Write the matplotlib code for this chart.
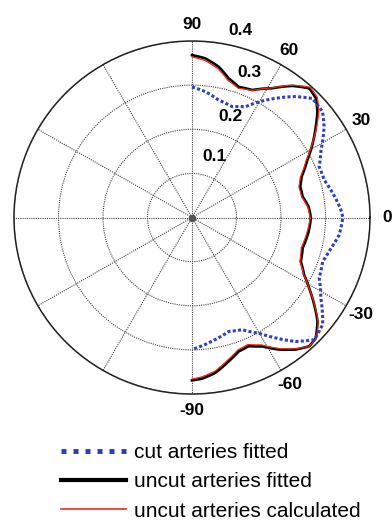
import numpy as np
import matplotlib
matplotlib.use("Agg")
import matplotlib.pyplot as plt
from matplotlib.lines import Line2D

# Angles in degrees, radii in polar units
uncut_deg = [90, 85.3, 80.1, 75.4, 70.5, 64.9, 58.4, 52.9, 48.0, 44.1, 40.4,
             36.5, 31.8, 26.7, 20.6, 16.1, 10.8, 5.4, 0, -6.9, -15.6, -22.2,
             -27.2, -31.3, -35.7, -39.8, -44.5, -47.9, -52.1, -56.9, -61.6,
             -66.4, -70.9, -75.8, -81.6, -86.6, -90]
uncut_fit_r = [0.368, 0.362, 0.347, 0.326, 0.314, 0.319, 0.344, 0.374, 0.394,
               0.388, 0.370, 0.346, 0.319, 0.290, 0.263, 0.253, 0.253, 0.263,
               0.267, 0.264, 0.258, 0.264, 0.283, 0.308, 0.338, 0.367, 0.390,
               0.393, 0.379, 0.357, 0.332, 0.318, 0.321, 0.336, 0.356, 0.366,
               0.369]
uncut_calc_r = [0.364, 0.357, 0.342, 0.321, 0.311, 0.318, 0.345, 0.376, 0.397,
                0.392, 0.374, 0.349, 0.318, 0.287, 0.260, 0.250, 0.251, 0.261,
                0.266, 0.261, 0.255, 0.262, 0.282, 0.308, 0.339, 0.369, 0.391,
                0.393, 0.377, 0.354, 0.328, 0.314, 0.317, 0.332, 0.352, 0.362,
                0.366]

cut_deg = [90, 84.1, 77.4, 70.3, 64.5, 60.2, 55.2, 49.6, 44.9, 39.3, 34.7,
           27.9, 22.0, 16.0, 9.9, 3.0, 0, -6.8, -12.5, -18.7, -25.6, -32.2,
           -39.6, -45.2, -50.3, -55.5, -60.2, -66.1, -72.3, -81.0, -90]
cut_fit_r = [0.296, 0.287, 0.273, 0.267, 0.278, 0.302, 0.329, 0.360, 0.382,
             0.379, 0.361, 0.328, 0.308, 0.309, 0.321, 0.335, 0.339, 0.333,
             0.320, 0.310, 0.317, 0.342, 0.381, 0.390, 0.365, 0.331, 0.302,
             0.278, 0.271, 0.284, 0.299]

angle_ticks = [0, 30, 60, 90, 120, 150, 180, 210, 240, 270, 300, 330]
angle_labels = ["0", "30", "60", "90", "", "", "", "", "", "-90", "-60", "-30"]
radial_ticks = [0.1, 0.2, 0.3, 0.4]
radial_labels = ["0.1", "0.2", "0.3", "0.4"]

series_names = ["cut arteries fitted", "uncut arteries fitted",
                "uncut arteries calculated"]

BLUE = "#2f3fc4"
RED = "#ee2a14"

plt.rcParams["font.family"] = ["Liberation Sans", "DejaVu Sans"]

fig = plt.figure(figsize=(3.92, 5.26), dpi=100)
ax = fig.add_axes([0.03571, 0.2509, 0.9082, 0.6711], projection="polar")
ax.set_aspect("auto")
ax.set_theta_zero_location("E")
ax.set_theta_direction(1)
ax.set_rlim(0, 0.4)

ax.set_thetagrids(angle_ticks, [""] * len(angle_ticks))
ax.set_rgrids(radial_ticks, [""] * len(radial_ticks))
ax.grid(True, color="#444444", linestyle=(0, (1, 1)), linewidth=0.8)
ax.spines["polar"].set_linewidth(1.1)
ax.spines["polar"].set_color("#222222")


def smooth_polar(line, steps=16):
    # draw each segment as a curve in (theta, r) space instead of a chord
    line.get_path()._interpolation_steps = steps
    return line


# Curves
smooth_polar(ax.plot(np.deg2rad(uncut_deg), uncut_fit_r, color="black",
                     lw=1.9, zorder=3)[0])
smooth_polar(ax.plot(np.deg2rad(uncut_deg), uncut_calc_r, color=RED,
                     lw=0.9, zorder=4)[0])
smooth_polar(ax.plot(np.deg2rad(cut_deg), cut_fit_r, color=BLUE, lw=2.2,
                     linestyle=(0, (1, 0.75)), zorder=5)[0])

# Centre marker
ax.plot([0], [0], "o", color="#555555", ms=4.5, zorder=6, clip_on=False)

# Angle labels
for deg, lab in zip(angle_ticks, angle_labels):
    if lab:
        ax.text(np.deg2rad(deg), 0.438, lab, ha="center", va="center",
                fontsize=12.5, fontweight="bold", clip_on=False)

# Radius labels
rlab_pos = [(69.8, 0.148), (69.5, 0.244), (68.6, 0.354), (75.7, 0.437)]
for (deg, rr), lab in zip(rlab_pos, radial_labels):
    ax.text(np.deg2rad(deg), rr, lab, ha="center", va="center",
            fontsize=12.5, fontweight="bold", clip_on=False)

# Legend
handles = [
    Line2D([], [], color=BLUE, lw=3.6, linestyle=(0, (1, 1.4))),
    Line2D([], [], color="black", lw=3.0),
    Line2D([], [], color=RED, lw=1.2),
]
fig.legend(handles, series_names, loc="upper left",
           bbox_to_anchor=(0.1555, 0.158), frameon=False, fontsize=15,
           handlelength=3.1, handletextpad=0.4, labelspacing=0.5,
           borderaxespad=0, borderpad=0)

fig.savefig("out.png", dpi=100)
